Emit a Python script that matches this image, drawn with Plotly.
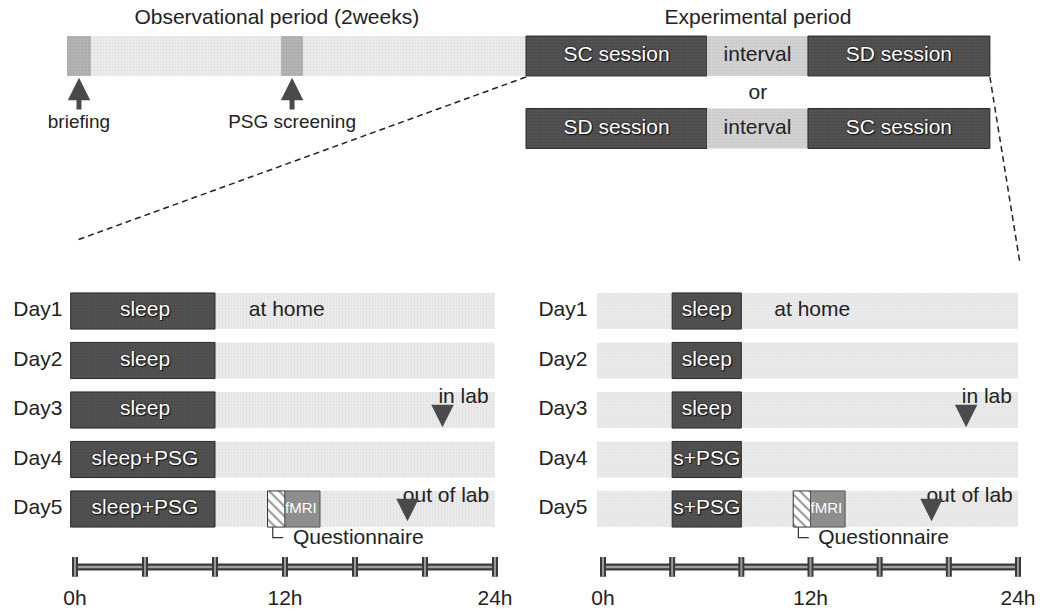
import plotly.graph_objects as go

W, H = 1042, 612
FONT = "Liberation Sans, Arial, sans-serif"

# ---------------- data ----------------
days = ["Day1", "Day2", "Day3", "Day4", "Day5"]
day_num = [1, 2, 3, 4, 5]
sc_sleep_start = [0, 0, 0, 0, 0]
sc_sleep_end = [8, 8, 8, 8, 8]
sc_sleep_labels = ["sleep", "sleep", "sleep", "sleep+PSG", "sleep+PSG"]
sd_sleep_start = [4, 4, 4, 4, 4]
sd_sleep_end = [8, 8, 8, 8, 8]
sd_sleep_labels = ["sleep", "sleep", "sleep", "s+PSG", "s+PSG"]
quest_span = [11, 12]
fmri_span = [12, 14]
in_lab_hour = 21
out_lab_hour = 19
tick_hours = [0, 4, 8, 12, 16, 20, 24]
tick_label_hours = [0, 12, 24]
tick_label_text = ["0h", "12h", "24h"]

obs_span = [0, 14]                  # days
briefing_span = [0, 0.73]
psg_screen_span = [6.53, 7.2]
exp_names_1 = ["SC session", "interval", "SD session"]
exp_names_2 = ["SD session", "interval", "SC session"]
exp_starts = [14, 19.52, 22.6]
exp_ends = [19.52, 22.6, 28.15]

# ---------------- styles ----------------
DARK = "#525252"
DARK_FG = "#3c3c3c"
LIGHT = "#ececec"
LIGHT_FG = "#cfcfcf"
INTERVAL = "#d2d2d2"
PATCH = "#b4b4b4"
FMRI = "#8e8e8e"
INK = "#222222"
SHADOW = "0px 0px 2px #111, 1px 1px 1px #111"
FS = 21

def pat(bg, fg, size=3, sol=0.35):
    return dict(shape=".", bgcolor=bg, fgcolor=fg, size=size, solidity=sol)

fig = go.Figure()

def hbar(xa, ya, y, start, end, color, fg=None, width=0.73, line="#333", pattern=None):
    marker = dict(color=color, line=dict(color=line, width=1))
    if pattern is not None:
        marker["pattern"] = pattern
    elif fg is not None:
        marker["pattern"] = pat(color, fg)
    fig.add_trace(go.Bar(orientation="h", y=y, x=[e - s for s, e in zip(start, end)],
                         base=start, width=width, marker=marker, xaxis=xa, yaxis=ya,
                         hoverinfo="skip"))

def txt(xa, ya, x, y, t, color=INK, size=FS, pos="middle center", shadow=None):
    tf = dict(color=color, size=size, family=FONT)
    if shadow:
        tf["shadow"] = shadow
    fig.add_trace(go.Scatter(x=x, y=y, text=t, mode="text", textposition=pos,
                             textfont=tf, xaxis=xa, yaxis=ya, cliponaxis=False,
                             hoverinfo="skip"))

# ---------------- bottom panels ----------------
panels = [("x", "y", sc_sleep_start, sc_sleep_end, sc_sleep_labels, -0.72, -0.25),
          ("x2", "y2", sd_sleep_start, sd_sleep_end, sd_sleep_labels, -0.9, -0.35)]
for xa, ya, s0, s1, labs, day_x, bg0 in panels:
    # background day rows
    hbar(xa, ya, day_num, [bg0] * 5, [24] * 5, LIGHT, LIGHT_FG, line="rgba(0,0,0,0)")
    # sleep
    hbar(xa, ya, day_num, [s if s > 0 else bg0 for s in s0], s1, DARK, DARK_FG, line="#2a2a2a")
    txt(xa, ya, [(max(a, bg0) + b) / 2 for a, b in zip(s0, s1)], day_num, labs,
        color="white", size=FS, shadow=SHADOW)
    # questionnaire + fMRI on Day5
    hbar(xa, ya, [5], [quest_span[0]], [quest_span[1]], "white", line="#333",
         pattern=dict(shape="\\", fgcolor="#333", bgcolor="white", size=7, solidity=0.3))
    hbar(xa, ya, [5], [fmri_span[0]], [fmri_span[1]], FMRI, line="#555")
    txt(xa, ya, [fmri_span[0] + 0.0], [5], ["fMRI"], color="white", size=15,
        pos="middle right")
    # questionnaire callout
    qx = quest_span[0] + 0.3
    fig.add_trace(go.Scatter(x=[qx, qx, quest_span[1] - 0.1], y=[5.37, 5.58, 5.58],
                             mode="lines", line=dict(color="#333", width=1.2),
                             xaxis=xa, yaxis=ya, hoverinfo="skip"))
    txt(xa, ya, [quest_span[1] + 0.45], [5.6], ["Questionnaire"], pos="middle right")
    # day labels
    txt(xa, ya, [day_x] * 5, day_num, days, pos="middle left")
    # at home
    txt(xa, ya, [12.1], [1], ["at home"])
    # in lab / out of lab
    txt(xa, ya, [22.2], [2.76], ["in lab"])
    txt(xa, ya, [21.2], [4.76], ["out of lab"])
    for hr, y0, y1 in [(in_lab_hour, 2.96, 3.35), (out_lab_hour, 4.9, 5.25)]:
        fig.add_annotation(x=hr, y=y1, ax=hr, ay=y0, xref=xa, yref=ya, axref=xa, ayref=ya,
                           text="", showarrow=True, arrowhead=2, arrowsize=0.9,
                           arrowwidth=5, arrowcolor="#4a4a4a")
    # timeline
    TL = 6.17
    fig.add_trace(go.Scatter(x=[0, 24], y=[TL, TL], mode="lines",
                             line=dict(color="#3a3a3a", width=7), xaxis=xa, yaxis=ya,
                             hoverinfo="skip"))
    fig.add_trace(go.Scatter(x=[0, 24], y=[TL, TL], mode="lines",
                             line=dict(color="#a0a0a0", width=2.5), xaxis=xa, yaxis=ya,
                             hoverinfo="skip"))
    tx, ty = [], []
    for h in tick_hours:
        tx += [h, h, None]
        ty += [TL - 0.2, TL + 0.2, None]
    fig.add_trace(go.Scatter(x=tx, y=ty, mode="lines", line=dict(color="#3a3a3a", width=6),
                             xaxis=xa, yaxis=ya, hoverinfo="skip"))
    fig.add_trace(go.Scatter(x=tx, y=ty, mode="lines", line=dict(color="#9a9a9a", width=2),
                             xaxis=xa, yaxis=ya, hoverinfo="skip"))
    txt(xa, ya, tick_label_hours, [6.83] * 3, tick_label_text)

# panel titles
fig.add_annotation(x=0, y=0.22, xref="x", yref="y", text="Sleep control session",
                   showarrow=False, xanchor="left", font=dict(size=FS, color=INK, family=FONT))
fig.add_annotation(x=0, y=0.22, xref="x2", yref="y2", text="Sleep debt session",
                   showarrow=False, xanchor="left", font=dict(size=FS, color=INK, family=FONT))

# ---------------- top panel ----------------
hbar("x3", "y3", [1], [obs_span[0]], [obs_span[1]], LIGHT, LIGHT_FG, width=0.55,
     line="rgba(0,0,0,0)")
hbar("x3", "y3", [1, 1], [briefing_span[0], psg_screen_span[0]],
     [briefing_span[1], psg_screen_span[1]], PATCH, "#9a9a9a", width=0.55,
     line="rgba(0,0,0,0)")
for row, names in [(1, exp_names_1), (2, exp_names_2)]:
    for n, s, e in zip(names, exp_starts, exp_ends):
        is_int = n == "interval"
        hbar("x3", "y3", [row], [s], [e], INTERVAL if is_int else DARK,
             "#bcbcbc" if is_int else DARK_FG, width=0.55,
             line="rgba(0,0,0,0)" if is_int else "#2a2a2a")
        txt("x3", "y3", [(s + e) / 2], [row], [n], color=INK if is_int else "white",
            size=FS, shadow=None if is_int else SHADOW)
txt("x3", "y3", [(exp_starts[0] + exp_ends[-1]) / 2], [1.52], ["or"])
txt("x3", "y3", [6.4], [0.48], ["Observational period (2weeks)"])
txt("x3", "y3", [(exp_starts[0] + exp_ends[-1]) / 2], [0.48], ["Experimental period"])

for c, lab in [((briefing_span[0] + briefing_span[1]) / 2, "briefing"),
               ((psg_screen_span[0] + psg_screen_span[1]) / 2, "PSG screening")]:
    fig.add_annotation(x=c, y=1.3, ax=c, ay=1.76, xref="x3", yref="y3", axref="x3",
                       ayref="y3", text="", showarrow=True, arrowhead=2, arrowsize=0.9,
                       arrowwidth=5, arrowcolor="#4a4a4a")
    txt("x3", "y3", [c], [1.93], [lab], size=19)

# dashed connectors
fig.add_shape(type="line", xref="x3", yref="y3", x0=exp_starts[0], y0=1.29, x1=0.3, y1=3.54,
              line=dict(color="#222", width=1.5, dash="6px,4px"))
fig.add_shape(type="line", xref="x3", yref="y3", x0=exp_ends[-1], y0=1.29, x1=29.06, y1=3.84,
              line=dict(color="#222", width=1.5, dash="6px,4px"))

# ---------------- layout ----------------
px_per_day = (526 - 67) / 14.0
x3lo = -67 / px_per_day
x3hi = (W - 67) / px_per_day
row_px = 72.5
y3lo = 1 - 56 / row_px
y3hi = 1 + (H - 56) / row_px

def hour_axis(px0, px24, lo, hi):
    k = (px24 - px0) / 24.0
    return [(px0 + lo * k) / W, (px0 + hi * k) / W], [lo, hi]

dom1, rng1 = hour_axis(75, 495, -4.0, 24.4)
dom2, rng2 = hour_axis(603, 1018, -3.9, 24.4)

day_px = 49.5
top_px = 311 - 0.5 * day_px
bot_px = top_px + 6.55 * day_px
ydom = [1 - bot_px / H, 1 - top_px / H]

hidden = dict(visible=False, showgrid=False, zeroline=False, fixedrange=True)
fig.update_layout(
    width=W, height=H, margin=dict(l=0, r=0, t=0, b=0),
    paper_bgcolor="white", plot_bgcolor="rgba(0,0,0,0)",
    showlegend=False, barmode="overlay",
    font=dict(family=FONT, color=INK),
    xaxis=dict(domain=dom1, range=rng1, anchor="y", **hidden),
    yaxis=dict(domain=ydom, range=[7.05, 0.5], anchor="x", **hidden),
    xaxis2=dict(domain=dom2, range=rng2, anchor="y2", **hidden),
    yaxis2=dict(domain=ydom, range=[7.05, 0.5], anchor="x2", **hidden),
    xaxis3=dict(domain=[0, 1], range=[x3lo, x3hi], anchor="y3", **hidden),
    yaxis3=dict(domain=[0, 1], range=[y3hi, y3lo], anchor="x3", **hidden),
)

fig.write_html("out.html", config={"displayModeBar": False},
               post_script="document.body.style.margin='0px';document.body.style.overflow='hidden';")
